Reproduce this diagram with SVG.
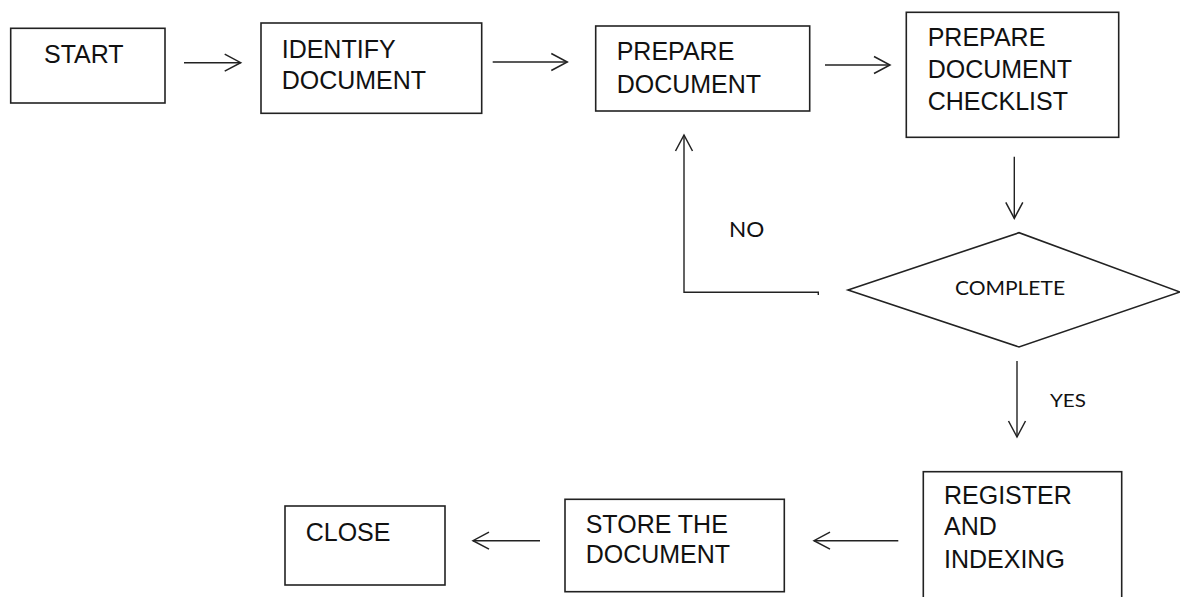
<svg xmlns="http://www.w3.org/2000/svg" width="1180" height="597" viewBox="0 0 1180 597">
<style>
.box{fill:#fff;stroke:#222;stroke-width:1.6}
.t{font-family:"Liberation Sans",Arial,sans-serif;font-size:25px;fill:#111}
.c{font-family:Lato,"Open Sans",sans-serif;fill:#111}
.ln{fill:none;stroke:#222;stroke-width:1.4}
</style>
<defs>
<marker id="ah" markerUnits="userSpaceOnUse" viewBox="-18 -10 20 20" refX="0" refY="0" markerWidth="20" markerHeight="20" orient="auto" overflow="visible">
<path d="M-16,-8.5 L0,0 L-16,8.5" fill="none" stroke="#222" stroke-width="1.5"/>
</marker>
</defs>
<rect width="1180" height="597" fill="#fff"/>
<g id="start"><rect class="box" x="10.7" y="28.3" width="154.3" height="74.7"/><text class="t" x="44" y="62.7">START</text></g>
<g id="identify"><rect class="box" x="261" y="23" width="220.7" height="90.3"/><text class="t" x="281.7" y="58.3">IDENTIFY</text><text class="t" x="281.7" y="89.3">DOCUMENT</text></g>
<g id="prepare"><rect class="box" x="595.7" y="26" width="214" height="85"/><text class="t" x="616.7" y="60">PREPARE</text><text class="t" x="616.7" y="92.7">DOCUMENT</text></g>
<g id="checklist"><rect class="box" x="906.3" y="12.3" width="212.4" height="125"/><text class="t" x="927.7" y="45.7">PREPARE</text><text class="t" x="927.7" y="77.7">DOCUMENT</text><text class="t" x="927.7" y="110">CHECKLIST</text></g>
<g id="complete"><polygon class="box" points="848,290 1019,232.7 1180,292 1019,347"/><text class="c" x="955" y="295" font-size="19" textLength="110" lengthAdjust="spacingAndGlyphs">COMPLETE</text></g>
<g id="register"><rect class="box" x="923.3" y="471.7" width="198.4" height="130"/><text class="t" x="944" y="504">REGISTER</text><text class="t" x="944" y="535">AND</text><text class="t" x="944" y="568.3">INDEXING</text></g>
<g id="store"><rect class="box" x="565" y="499.3" width="219.3" height="92.4"/><text class="t" x="585.7" y="532.7">STORE THE</text><text class="t" x="585.7" y="563.3">DOCUMENT</text></g>
<g id="close"><rect class="box" x="285" y="506" width="160" height="79"/><text class="t" x="305.7" y="541">CLOSE</text></g>
<g id="connectors">
<line class="ln" x1="184" y1="62.7" x2="240.7" y2="62.7" marker-end="url(#ah)"/>
<line class="ln" x1="492.7" y1="62" x2="567.3" y2="62" marker-end="url(#ah)"/>
<line class="ln" x1="825" y1="65" x2="890" y2="65" marker-end="url(#ah)"/>
<line class="ln" x1="1014.3" y1="156.7" x2="1014.3" y2="218.3" marker-end="url(#ah)"/>
<path class="ln" d="M818.3,295 L818.3,292.3 L684,292.3 L684,135" marker-end="url(#ah)"/>
<text class="c" x="729" y="236.7" font-size="22" textLength="35.3" lengthAdjust="spacingAndGlyphs">NO</text>
<line class="ln" x1="1017" y1="361" x2="1017" y2="437" marker-end="url(#ah)"/>
<text class="c" x="1050" y="407" font-size="18" textLength="36" lengthAdjust="spacingAndGlyphs">YES</text>
<line class="ln" x1="898.3" y1="540.7" x2="814" y2="540.7" marker-end="url(#ah)"/>
<line class="ln" x1="540" y1="540.7" x2="473" y2="540.7" marker-end="url(#ah)"/>
</g>
</svg>
